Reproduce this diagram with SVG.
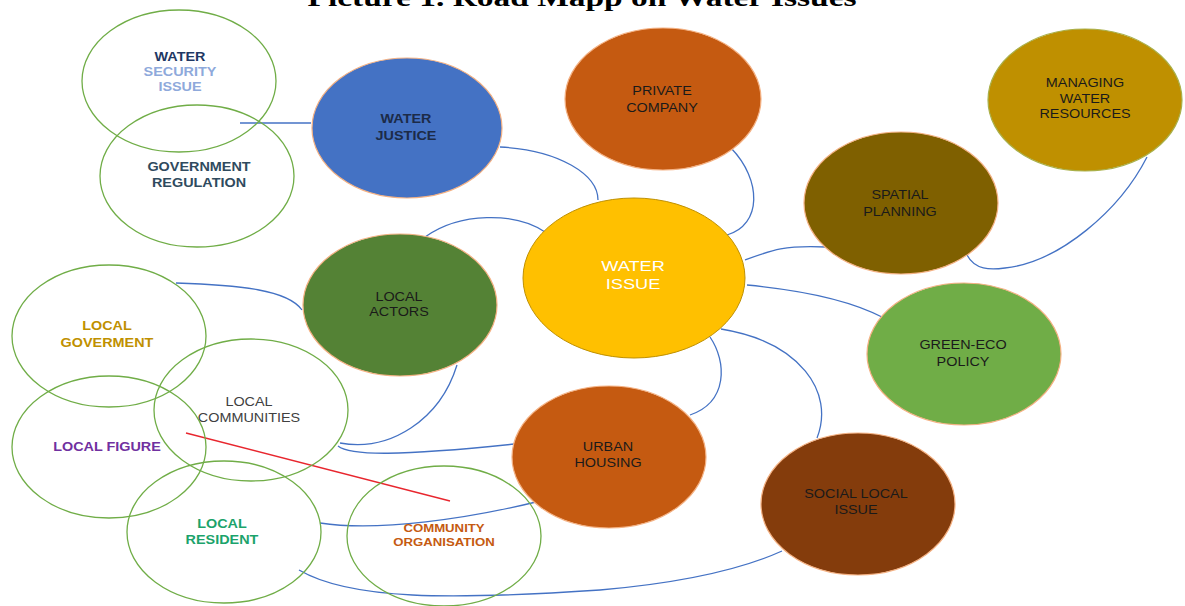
<svg xmlns="http://www.w3.org/2000/svg" width="1185" height="606" viewBox="0 0 1185 606">
<style>
.ring{fill:none;stroke:#70AD47;stroke-width:1.3}
.fill{stroke:#F4B183;stroke-width:1.2}
.con path{fill:none;stroke:#4472C4;stroke-width:1.3}
.t{font-family:"Liberation Sans",Arial,sans-serif;font-size:12px;text-anchor:middle}
.b{font-weight:bold}
.dk{fill:#1a1a1a}
</style>
<rect width="1185" height="606" fill="#fff"/>
<text x="582" y="6" font-family="'Liberation Serif','Times New Roman',serif" font-weight="bold" font-size="25" text-anchor="middle" textLength="549" lengthAdjust="spacingAndGlyphs" fill="#000">Picture 1. Road Mapp on Water Issues</text>

<g id="connectors" class="con">
<path d="M240 123 L311 123"/>
<path d="M500 147 C560 150 598 175 598 200"/>
<path d="M425 237 C460 212 515 212 545 232"/>
<path d="M731 148 C762 180 762 225 727 235"/>
<path d="M745 260 C772 250 785 245 826 247"/>
<path d="M967 255 C975 270 990 270 1005 268 C1060 262 1120 210 1147 157"/>
<path d="M747 285 C800 290 850 300 884 318"/>
<path d="M710 337 C727 362 728 402 690 415"/>
<path d="M721 329 C800 342 835 392 817 438"/>
<path d="M176 283 C240 285 288 290 302 310"/>
<path d="M457 365 C440 420 390 452 340 443"/>
<path d="M338 446 C350 456 400 456 515 444"/>
<path d="M320 523 C380 532 470 518 536 502"/>
<path d="M299 570 C350 600 450 600 600 590 C680 583 740 570 782 551"/>
<path d="M186 433 L450 501" style="stroke:#E8262E"/>
</g>

<g id="water-security-issue">
<ellipse class="ring" cx="179" cy="81" rx="97" ry="71"/>
<text class="t b" transform="translate(180,61) scale(1.2,1)"><tspan x="0" fill="#1F3864">WATER</tspan><tspan x="0" dy="15" fill="#8EA9DB">SECURITY</tspan><tspan x="0" dy="15" fill="#8EA9DB">ISSUE</tspan></text>
</g>
<g id="government-regulation">
<ellipse class="ring" cx="197" cy="176" rx="97" ry="71"/>
<text class="t b" fill="#2F4A5E" transform="translate(199,171) scale(1.2,1)"><tspan x="0">GOVERNMENT</tspan><tspan x="0" dy="16">REGULATION</tspan></text>
</g>
<g id="water-justice">
<ellipse class="fill" cx="407" cy="128" rx="95" ry="70" fill="#4472C4"/>
<text class="t b" fill="#1C2B48" transform="translate(406,123) scale(1.2,1)"><tspan x="0">WATER</tspan><tspan x="0" dy="17">JUSTICE</tspan></text>
</g>
<g id="private-company">
<ellipse class="fill" cx="663" cy="99" rx="98" ry="71" fill="#C55A11"/>
<text class="t dk" transform="translate(662,95) scale(1.2,1)"><tspan x="0">PRIVATE</tspan><tspan x="0" dy="17">COMPANY</tspan></text>
</g>
<g id="managing-water-resources">
<ellipse class="fill" cx="1085" cy="100" rx="97" ry="71" fill="#BF9000" style="stroke:#A9B04A"/>
<text class="t dk" transform="translate(1085,87) scale(1.2,1)"><tspan x="0">MANAGING</tspan><tspan x="0" dy="16">WATER</tspan><tspan x="0" dy="15">RESOURCES</tspan></text>
</g>
<g id="spatial-planning">
<ellipse class="fill" cx="901" cy="203" rx="97" ry="71" fill="#7F6000"/>
<text class="t dk" transform="translate(900,199) scale(1.2,1)"><tspan x="0">SPATIAL</tspan><tspan x="0" dy="17">PLANNING</tspan></text>
</g>
<g id="water-issue">
<ellipse cx="634" cy="278" rx="111" ry="80" fill="#FFC000" stroke="#BF9000" stroke-width="1"/>
<text class="t" fill="#fff" font-size="14" style="font-size:14px" transform="translate(633,271) scale(1.3,1)"><tspan x="0">WATER</tspan><tspan x="0" dy="18">ISSUE</tspan></text>
</g>
<g id="green-eco-policy">
<ellipse class="fill" cx="964" cy="354" rx="97" ry="71" fill="#70AD47"/>
<text class="t dk" transform="translate(963,349) scale(1.2,1)"><tspan x="0">GREEN-ECO</tspan><tspan x="0" dy="17">POLICY</tspan></text>
</g>
<g id="urban-housing">
<ellipse class="fill" cx="609" cy="457" rx="97" ry="71" fill="#C55A11"/>
<text class="t dk" transform="translate(608,451) scale(1.2,1)"><tspan x="0">URBAN</tspan><tspan x="0" dy="16">HOUSING</tspan></text>
</g>
<g id="social-local-issue">
<ellipse class="fill" cx="858" cy="504" rx="97" ry="71" fill="#843C0C"/>
<text class="t dk" transform="translate(856,498) scale(1.2,1)"><tspan x="0">SOCIAL LOCAL</tspan><tspan x="0" dy="16">ISSUE</tspan></text>
</g>
<g id="local-actors">
<ellipse class="fill" cx="400" cy="305" rx="97" ry="71" fill="#548235"/>
<text class="t dk" transform="translate(399,301) scale(1.2,1)"><tspan x="0">LOCAL</tspan><tspan x="0" dy="15">ACTORS</tspan></text>
</g>
<g id="local-goverment">
<ellipse class="ring" cx="109" cy="336" rx="97" ry="71"/>
<text class="t b" fill="#BF9000" transform="translate(107,330) scale(1.2,1)"><tspan x="0">LOCAL</tspan><tspan x="0" dy="17">GOVERMENT</tspan></text>
</g>
<g id="local-communities">
<ellipse class="ring" cx="251" cy="410" rx="97" ry="71"/>
<text class="t" fill="#404040" transform="translate(249,406) scale(1.2,1)"><tspan x="0">LOCAL</tspan><tspan x="0" dy="16">COMMUNITIES</tspan></text>
</g>
<g id="local-figure">
<ellipse class="ring" cx="109" cy="447" rx="97" ry="71"/>
<text class="t b" fill="#7030A0" transform="translate(107,451) scale(1.2,1)">LOCAL FIGURE</text>
</g>
<g id="local-resident">
<ellipse class="ring" cx="224" cy="532" rx="97" ry="71"/>
<text class="t b" fill="#1BA36B" transform="translate(222,528) scale(1.2,1)"><tspan x="0">LOCAL</tspan><tspan x="0" dy="16">RESIDENT</tspan></text>
</g>
<g id="community-organisation">
<ellipse class="ring" cx="444" cy="536" rx="97" ry="70"/>
<text class="t b" fill="#C55A11" style="font-size:11px" transform="translate(444,532) scale(1.2,1)"><tspan x="0">COMMUNITY</tspan><tspan x="0" dy="14">ORGANISATION</tspan></text>
</g>
</svg>
